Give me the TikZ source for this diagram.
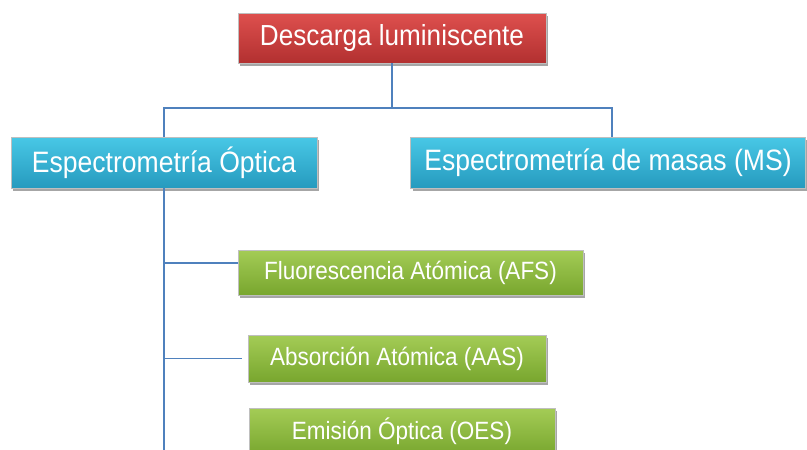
\documentclass[tikz,border=0pt]{standalone}
\usepackage{fontspec}
\setmainfont{Liberation Sans}
\newfontfamily\boxfont[FakeStretch=0.9]{Liberation Sans}
\usetikzlibrary{positioning, shadows}

\definecolor{redtop}{RGB}{222,80,78}
\definecolor{redbot}{RGB}{178,48,48}
\definecolor{bluetop}{RGB}{72,200,230}
\definecolor{bluebot}{RGB}{38,154,190}
\definecolor{greentop}{RGB}{164,204,86}
\definecolor{greenbot}{RGB}{120,166,46}
\definecolor{linkblue}{RGB}{79,129,189}

\begin{document}
\begin{tikzpicture}
    [
        x=1pt, y=-1pt,
        box_node/.style={rectangle, inner sep=0pt, text=white, draw=black!25, line width=0.4pt,
            drop shadow={shadow xshift=2pt, shadow yshift=-3pt, opacity=0.35, fill=black}},
        red_node/.style={box_node, top color=redtop, bottom color=redbot, minimum width=308pt, minimum height=50pt, font=\boxfont\fontsize{29}{32}\selectfont},
        blue_node/.style={box_node, top color=bluetop, bottom color=bluebot, minimum height=51pt, font=\boxfont\fontsize{29.5}{32}\selectfont},
        green_node/.style={box_node, top color=greentop, bottom color=greenbot, minimum height=47pt, font=\boxfont\fontsize{25}{28}\selectfont},
        link/.style={draw=linkblue, line width=1.3pt},
    ]
        \useasboundingbox (0,0) rectangle (807,450) ;
        \node[red_node] (desc) at (392,38) {Descarga luminiscente} ;
        \node[blue_node, minimum width=306pt] (opt) at (164,162.5) {Espectrometría Óptica} ;
        \node[blue_node, minimum width=395pt] (ms) at (608,162.5) {Espectrometría de masas (MS)} ;
        \node[green_node, minimum width=345pt, minimum height=45pt] (afs) at (410.5,272.5) {Fluorescencia Atómica (AFS)} ;
        \node[green_node, minimum width=298pt] (aas) at (397,358.5) {Absorción Atómica (AAS)} ;
        \node[green_node, minimum width=306pt] (oes) at (402,431.5) {Emisión Óptica (OES)} ;
        \coordinate (bus) at (desc.south |- 0,108) ;
        \coordinate (tail) at (opt.south |- 0,452) ;
        \draw[link] (desc.south) -- (bus) ;
        \draw[link] (bus) -| (opt.north) ;
        \draw[link] (bus) -| ([xshift=4pt]ms.north) ;
        \draw[link] (opt.south) -- (tail) ;
        \draw[link] (opt.south |- afs.west) ++(0,-9.5) -- ([yshift=9.5pt]afs.west) ;
        \draw[link, shorten >=6pt] (opt.south |- aas.west) -- (aas.west) ;
    \end{tikzpicture}
\end{document}
